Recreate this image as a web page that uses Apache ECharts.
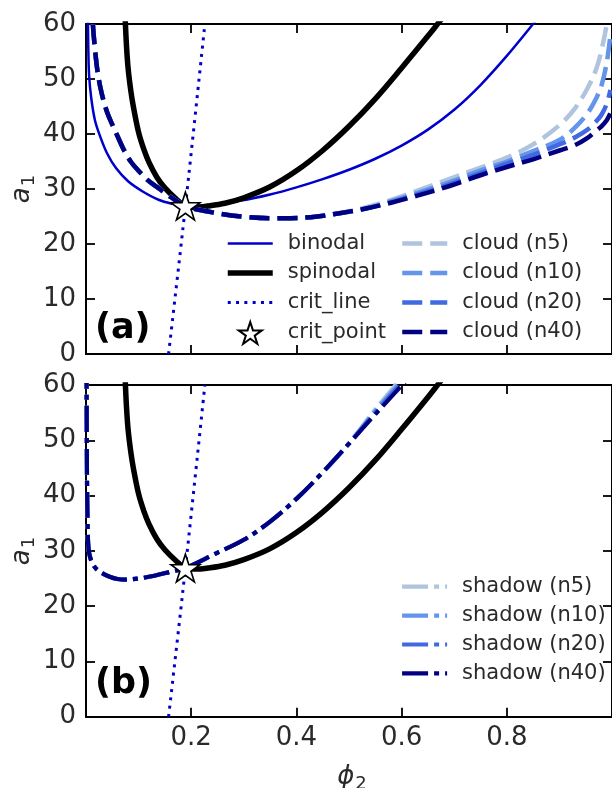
<!DOCTYPE html>
<html>
<head>
<meta charset="utf-8">
<script src="https://cdn.jsdelivr.net/npm/echarts@6/dist/echarts.min.js"></script>
<style>
  html, body { margin: 0; padding: 0; background: #ffffff; }
  #chart { width: 612px; height: 788px; }
</style>
</head>
<body>
<div id="chart"></div>
<script>
// ---- phase-diagram data: composition phi_2 vs interaction a_1 ----
const binodalPhi = [0.0035, 0.0045, 0.006, 0.01, 0.017, 0.026, 0.04, 0.057, 0.08, 0.107, 0.139, 0.165, 0.189, 0.232, 0.295, 0.35, 0.4, 0.45, 0.5, 0.55, 0.6, 0.65, 0.7, 0.75, 0.8, 0.85, 0.86];
const binodalA   = [62, 55, 50.5, 46.5, 42.5, 39.8, 36.5, 33.8, 31.4, 29.6, 28.0, 27.3, 26.9, 27.1, 27.9, 29.0, 30.3, 31.8, 33.5, 35.5, 37.9, 40.8, 44.4, 48.9, 54.2, 60, 61.2];

const spinodalPhi = [0.0745, 0.077, 0.08, 0.085, 0.09, 0.1, 0.11, 0.12, 0.135, 0.15, 0.17, 0.189, 0.21, 0.232, 0.264, 0.3, 0.35, 0.4, 0.45, 0.5, 0.55, 0.6, 0.65, 0.67, 0.68];
const spinodalA   = [61, 56, 52, 48, 45, 40.3, 37.2, 34.8, 32.1, 30.2, 28.3, 26.9, 26.7, 26.9, 27.4, 28.4, 30.4, 33.3, 37.0, 41.4, 46.4, 52.0, 57.8, 60.2, 61.4];

const critLinePhi = [0.157, 0.189, 0.226];
const critLineA   = [0, 26.9, 60];
const critPointPhi = 0.189;
const critPointA   = 26.9;

const cloudPhi = [0.01, 0.013, 0.017, 0.0225, 0.03, 0.04, 0.05, 0.06, 0.071, 0.085, 0.103, 0.12, 0.14, 0.16, 0.189, 0.232, 0.295, 0.35, 0.389, 0.44, 0.482, 0.53, 0.58, 0.63, 0.69, 0.75, 0.8, 0.85, 0.9, 0.93, 0.955, 0.97, 0.98, 0.99, 0.997];
const cloudN5  = [65, 60, 55.5, 51, 47.3, 44, 41.7, 39.6, 37.3, 35, 33, 31.4, 30, 28.6, 26.9, 25.9, 25.0, 24.7, 24.7, 25.0, 25.6, 26.6, 28.0, 29.7, 31.8, 33.9, 35.7, 38.1, 41.6, 44.7, 48.6, 51.8, 55.2, 60, 65];
const cloudN10 = [65, 60, 55.5, 51, 47.3, 44, 41.7, 39.6, 37.3, 35, 33, 31.4, 30, 28.6, 26.9, 25.9, 25.0, 24.7, 24.7, 25.0, 25.6, 26.4, 27.8, 29.3, 31.2, 33.4, 35.0, 36.9, 38.9, 41.2, 44.0, 46.5, 48.8, 53, 58];
const cloudN20 = [65, 60, 55.5, 51, 47.3, 44, 41.7, 39.6, 37.3, 35, 33, 31.4, 30, 28.6, 26.9, 25.9, 25.0, 24.7, 24.7, 25.0, 25.6, 26.4, 27.6, 29.0, 30.8, 32.9, 34.6, 36.2, 38.1, 39.4, 40.9, 42.3, 43.5, 45.5, 48];
const cloudN40 = [65, 60, 55.5, 51, 47.3, 44, 41.7, 39.6, 37.3, 35, 33, 31.4, 30, 28.6, 26.9, 25.9, 25.0, 24.7, 24.7, 25.0, 25.6, 26.4, 27.5, 28.8, 30.5, 32.5, 34.0, 35.4, 37.0, 38.0, 39.4, 40.6, 41.4, 42.5, 43.8];

const shadowPhi = [0.001, 0.0015, 0.002, 0.003, 0.004, 0.006, 0.01, 0.015, 0.02, 0.03, 0.045, 0.06, 0.076, 0.1, 0.13, 0.16, 0.189, 0.244, 0.3, 0.35, 0.4, 0.45, 0.5, 0.55, 0.6, 0.61];
const shadowN5  = [64, 50, 42, 35, 31.5, 29.6, 28.2, 27.3, 26.7, 26.0, 25.3, 24.9, 24.8, 25.0, 25.5, 26.2, 26.9, 29.4, 32.0, 35.3, 39.4, 44.2, 49.5, 55.6, 61.3, 62.5];
const shadowN10 = [64, 50, 42, 35, 31.5, 29.6, 28.2, 27.3, 26.7, 26.0, 25.3, 24.9, 24.8, 25.0, 25.5, 26.2, 26.9, 29.4, 32.0, 35.3, 39.4, 44.2, 49.4, 55.3, 60.8, 62.0];
const shadowN20 = [64, 50, 42, 35, 31.5, 29.6, 28.2, 27.3, 26.7, 26.0, 25.3, 24.9, 24.8, 25.0, 25.5, 26.2, 26.9, 29.4, 32.0, 35.3, 39.4, 44.2, 49.4, 55.0, 60.3, 61.4];
const shadowN40 = [64, 50, 42, 35, 31.5, 29.6, 28.2, 27.3, 26.7, 26.0, 25.3, 24.9, 24.8, 25.0, 25.5, 26.2, 26.9, 29.4, 32.0, 35.3, 39.4, 44.2, 49.4, 54.7, 59.9, 61.0];

const xTicks = [0.2, 0.4, 0.6, 0.8];
const yTicks = [0, 10, 20, 30, 40, 50, 60];

// ---- styling ----
const FONT = 'DejaVu Sans';
const TEXT = '#2a2a2a';
const BLUE = '#0000cd';
const SHADES = { n5: '#b0c4de', n10: '#6495ed', n20: '#4169e1', n40: '#000080' };
const DASHED = [20, 8];
const DASHDOT = [26, 6, 5, 6];
const DOTTED = [3, 5.3];
const STAR = 'path://M0,-10 L2.245,-3.09 L9.511,-3.09 L3.633,1.18 L5.878,8.09 L0,3.82 L-5.878,8.09 L-3.633,1.18 L-9.511,-3.09 L-2.245,-3.09 Z';

function pairs(xs, ys) { return xs.map((x, i) => [x, ys[i]]); }

function xAxisFor(gridIndex, position, labels) {
  return {
    type: 'value', gridIndex, position, min: 0, max: 1, interval: 0.2,
    axisLine: { show: true, onZero: false, lineStyle: { color: '#000', width: 2 } },
    axisTick: { show: true, inside: true, length: 9, lineStyle: { color: '#000', width: 1.8 } },
    axisLabel: {
      show: labels, showMinLabel: false, showMaxLabel: false, margin: 9,
      fontFamily: FONT, fontSize: 26, color: TEXT,
      formatter: v => (xTicks.some(t => Math.abs(t - v) < 1e-9) ? v.toFixed(1) : '')
    },
    splitLine: { show: false }
  };
}

function yAxisFor(gridIndex, position, labels) {
  return {
    type: 'value', gridIndex, position, min: 0, max: 60, interval: 10,
    axisLine: { show: true, onZero: false, lineStyle: { color: '#000', width: 2 } },
    axisTick: { show: true, inside: true, length: 9, lineStyle: { color: '#000', width: 1.8 } },
    axisLabel: {
      show: labels, margin: 10, fontFamily: FONT, fontSize: 26, color: TEXT,
      formatter: v => (yTicks.indexOf(v) >= 0 ? String(v) : '')
    },
    splitLine: { show: false }
  };
}

function curve(name, panel, xs, ys, color, width, dash, z) {
  return {
    name, type: 'line', xAxisIndex: panel * 2, yAxisIndex: panel * 2,
    data: pairs(xs, ys), symbol: 'none', smooth: 0.35,
    lineStyle: { color, width, type: dash || 'solid', cap: 'butt', join: 'round' },
    itemStyle: { color }, silent: true, z: z || 2, clip: true
  };
}

function critPoint(panel) {
  return {
    name: 'crit_point', type: 'scatter', xAxisIndex: panel * 2, yAxisIndex: panel * 2,
    data: [[critPointPhi, critPointA]], symbol: STAR, symbolSize: [29, 27.6],
    itemStyle: { color: '#ffffff', borderColor: '#000000', borderWidth: 1.6, opacity: 1 },
    silent: true, z: 10
  };
}

const legendText = { fontFamily: FONT, fontSize: 21, color: TEXT, lineHeight: 22, padding: [0, 0, 0, 10] };
function legendBlock(names, left, top, gap) {
  return {
    orient: 'vertical', left, top, padding: 0, itemGap: gap,
    itemWidth: 45, itemHeight: 22, selectedMode: false,
    textStyle: legendText,
    itemStyle: { opacity: 0 },
    lineStyle: { width: 'inherit', type: 'inherit', cap: 'inherit' },
    data: names.map(n => n === 'crit_point' ? { name: n, itemStyle: { opacity: 1 } } : { name: n })
  };
}

// mathtext-like label: italic symbol with a lowered subscript
function mathLabel(sym, sub) {
  return {
    text: '{i|' + sym + '}{s|' + sub + '}',
    fill: TEXT, align: 'center', verticalAlign: 'middle',
    rich: {
      i: { fontFamily: FONT, fontStyle: 'italic', fontSize: 26, fill: TEXT },
      s: { fontFamily: FONT, fontSize: 18, fill: TEXT, padding: [14, 0, 0, 1] }
    }
  };
}

const series = [
  // panel (a)
  curve('binodal', 0, binodalPhi, binodalA, BLUE, 2.5, null, 2),
  curve('spinodal', 0, spinodalPhi, spinodalA, '#000000', 5.5, null, 3),
  curve('crit_line', 0, critLinePhi, critLineA, BLUE, 3, DOTTED, 3),
  curve('cloud (n5)', 0, cloudPhi, cloudN5, SHADES.n5, 4.5, DASHED, 4),
  curve('cloud (n10)', 0, cloudPhi, cloudN10, SHADES.n10, 4.5, DASHED, 4),
  curve('cloud (n20)', 0, cloudPhi, cloudN20, SHADES.n20, 4.5, DASHED, 4),
  curve('cloud (n40)', 0, cloudPhi, cloudN40, SHADES.n40, 4.5, DASHED, 4),
  critPoint(0),
  // panel (b)
  curve('spinodal', 1, spinodalPhi, spinodalA, '#000000', 5.5, null, 3),
  curve('crit_line', 1, critLinePhi, critLineA, BLUE, 3, DOTTED, 3),
  curve('shadow (n5)', 1, shadowPhi, shadowN5, SHADES.n5, 4.2, DASHDOT, 4),
  curve('shadow (n10)', 1, shadowPhi, shadowN10, SHADES.n10, 4.2, DASHDOT, 4),
  curve('shadow (n20)', 1, shadowPhi, shadowN20, SHADES.n20, 4.2, DASHDOT, 4),
  curve('shadow (n40)', 1, shadowPhi, shadowN40, SHADES.n40, 4.2, DASHDOT, 4),
  critPoint(1)
];

const chart = echarts.init(document.getElementById('chart'), null, { renderer: 'canvas' });
chart.setOption({
  animation: false,
  backgroundColor: '#ffffff',
  grid: [
    { left: 86, top: 24, width: 533.5, height: 330 },
    { left: 86, top: 385, width: 533.5, height: 331.7 }
  ],
  xAxis: [
    xAxisFor(0, 'bottom', false), xAxisFor(0, 'top', false),
    xAxisFor(1, 'bottom', true), xAxisFor(1, 'top', false)
  ],
  yAxis: [
    yAxisFor(0, 'left', true), yAxisFor(0, 'right', false),
    yAxisFor(1, 'left', true), yAxisFor(1, 'right', false)
  ],
  legend: [
    legendBlock(['binodal', 'spinodal', 'crit_line', 'crit_point'], 225, 232.5, 7.5),
    legendBlock(['cloud (n5)', 'cloud (n10)', 'cloud (n20)', 'cloud (n40)'], 400, 232.5, 7.5),
    legendBlock(['shadow (n5)', 'shadow (n10)', 'shadow (n20)', 'shadow (n40)'], 400, 575.7, 6.9)
  ],
  graphic: [
    { type: 'text', x: 22, y: 189, rotation: Math.PI / 2, silent: true, style: mathLabel('a', '1') },
    { type: 'text', x: 22, y: 551, rotation: Math.PI / 2, silent: true, style: mathLabel('a', '1') },
    { type: 'text', x: 352, y: 777, silent: true, style: mathLabel('ϕ', '2') },
    { type: 'text', x: 95, y: 329, silent: true,
      style: { text: '(a)', fontFamily: FONT, fontWeight: 'bold', fontSize: 35, fill: '#000', align: 'left', verticalAlign: 'middle' } },
    { type: 'text', x: 95, y: 684, silent: true,
      style: { text: '(b)', fontFamily: FONT, fontWeight: 'bold', fontSize: 35, fill: '#000', align: 'left', verticalAlign: 'middle' } }
  ],
  series
});
</script>
</body>
</html>
